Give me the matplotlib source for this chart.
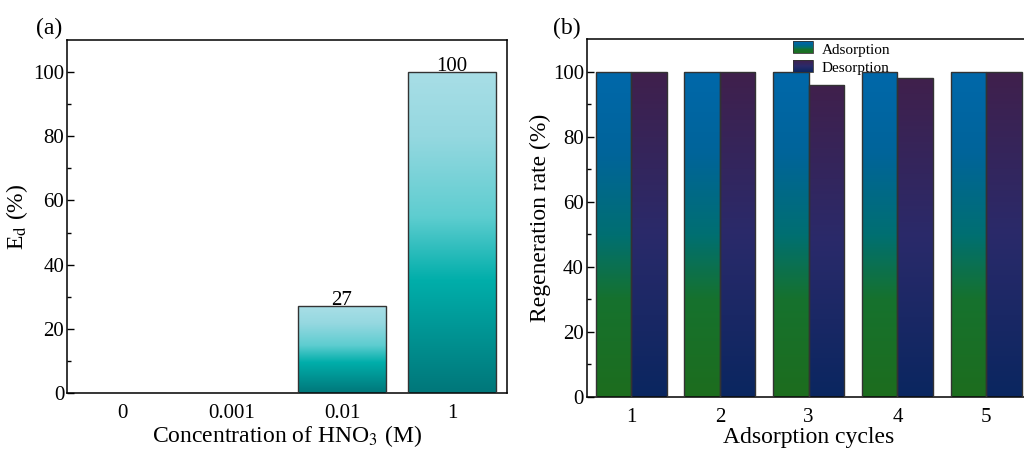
import numpy as np
import matplotlib
matplotlib.use('Agg')
import matplotlib.pyplot as plt
from matplotlib.colors import LinearSegmentedColormap
from matplotlib.patches import Rectangle
from matplotlib.legend_handler import HandlerBase

plt.rcParams['font.family'] = 'Liberation Serif'
plt.rcParams['mathtext.fontset'] = 'stix'

# panel (a) data
conc_labels = ['0', '0.001', '0.01', '1']
ed_values = [0, 0, 27, 100]

# panel (b) data
cycles = [1, 2, 3, 4, 5]
adsorption = [99.7, 100, 100, 100, 100]
desorption = [100, 100, 95.8, 98.0, 100]

teal = LinearSegmentedColormap.from_list('teal', [(0, '#00777a'), (0.35, '#00aeaa'),
                                                  (0.55, '#5ecdd0'), (0.8, '#95d8e0'), (1, '#a8dee6')])
ads_cm = LinearSegmentedColormap.from_list('ads', [(0, '#1d6d1e'), (0.3, '#16722e'), (0.5, '#006f72'),
                                                   (0.75, '#00649a'), (1, '#0068aa')])
des_cm = LinearSegmentedColormap.from_list('des', [(0, '#0a2660'), (0.5, '#2a2a6a'), (1, '#40204c')])


def grad_bars(ax, x, h, width, cmap):
    bars = ax.bar(x, h, width=width, color='none', edgecolor='#333333', linewidth=1, zorder=3)
    grad = np.linspace(0, 1, 256).reshape(-1, 1)
    for b in bars:
        if b.get_height() <= 0:
            continue
        x0, y0 = b.get_x(), b.get_y()
        im = ax.imshow(grad, cmap=cmap, origin='lower', aspect='auto',
                       extent=[x0, x0 + b.get_width(), y0, y0 + b.get_height()], zorder=2)
        im.set_clip_path(b)
    return bars


class GradHandler(HandlerBase):
    def __init__(self, cmap):
        super().__init__()
        self.cmap = cmap

    def create_artists(self, legend, orig, xd, yd, w, h, fontsize, trans):
        arts = []
        n = 12
        for i in range(n):
            r = Rectangle((xd, yd + i * h / n), w, h / n, facecolor=self.cmap((i + 0.5) / n),
                          edgecolor='none', transform=trans)
            arts.append(r)
        arts.append(Rectangle((xd, yd), w, h, facecolor='none', edgecolor='#333333', lw=0.6, transform=trans))
        return arts


fig = plt.figure(figsize=(10.24, 4.5), dpi=100)

# ---- (a)
ax1 = fig.add_axes([0.0654, 0.1267, 0.4297, 0.7844])
xa = np.arange(len(conc_labels))
grad_bars(ax1, xa, ed_values, 0.8, teal)
for x, v in zip(xa, ed_values):
    if v > 0:
        ax1.text(x, v - 1.2, str(v), ha='center', va='bottom', fontsize=15, zorder=4)
ax1.set_xlim(-0.5, 3.5)
ax1.set_ylim(0, 110)
ax1.set_xticks(xa)
ax1.set_xticklabels(conc_labels)
ax1.set_yticks(range(0, 101, 20))
ax1.set_yticks(range(10, 110, 20), minor=True)
ax1.tick_params(axis='y', which='major', direction='in', length=5, labelsize=15, width=1, pad=2)
ax1.tick_params(axis='y', which='minor', direction='in', length=3, width=1)
ax1.tick_params(axis='x', length=0, labelsize=15, pad=8)
ax1.set_xlabel('Concentration of HNO$_3$ (M)', fontsize=17, labelpad=0)
ax1.set_ylabel('E$_\\mathrm{d}$ (%)', fontsize=17, labelpad=2)
for s in ax1.spines.values():
    s.set_linewidth(1.1)
fig.text(0.035, 0.925, '(a)', fontsize=17)

# ---- (b)
ax2 = fig.add_axes([0.573, 0.1178, 0.4334, 0.7956])
xb = np.array(cycles)
grad_bars(ax2, xb - 0.2, adsorption, 0.4, ads_cm)
grad_bars(ax2, xb + 0.2, desorption, 0.4, des_cm)
ax2.set_xlim(0.5, 5.5)
ax2.set_ylim(0, 110)
ax2.set_xticks(xb)
ax2.set_yticks(range(0, 101, 20))
ax2.set_yticks(range(10, 110, 20), minor=True)
ax2.tick_params(axis='y', which='major', direction='in', length=5, labelsize=15, width=1, pad=2)
ax2.tick_params(axis='y', which='minor', direction='in', length=3, width=1)
ax2.tick_params(axis='x', length=0, labelsize=15, pad=8)
ax2.set_xlabel('Adsorption cycles', fontsize=17, labelpad=0)
ax2.set_ylabel('Regeneration rate (%)', fontsize=17, labelpad=1)
for s in ax2.spines.values():
    s.set_linewidth(1.1)
h1 = Rectangle((0, 0), 1, 1)
h2 = Rectangle((0, 0), 1, 1)
ax2.legend([h1, h2], ['Adsorption', 'Desorption'],
           handler_map={h1: GradHandler(ads_cm), h2: GradHandler(des_cm)},
           loc='upper left', bbox_to_anchor=(0.44, 1.02), frameon=False, fontsize=11,
           handlelength=1.3, handleheight=0.8, labelspacing=0.3, handletextpad=0.6, borderpad=0.2)
fig.text(0.54, 0.925, '(b)', fontsize=17)

fig.savefig('out.png', dpi=100)
